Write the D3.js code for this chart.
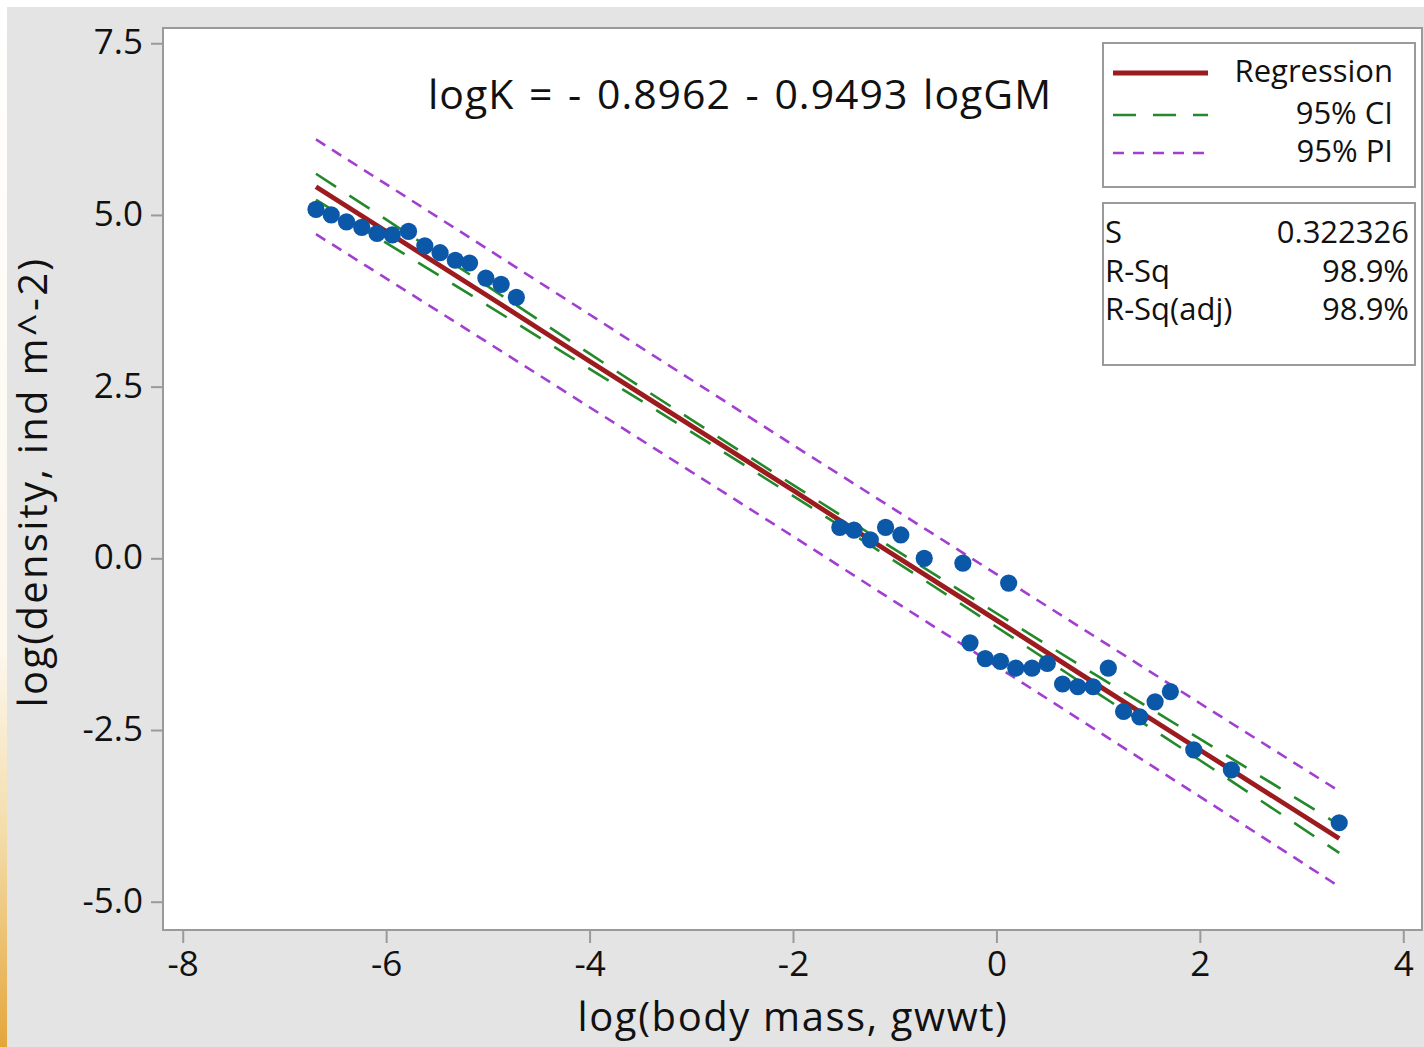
<!DOCTYPE html>
<html>
<head>
<meta charset="utf-8">
<script src="https://cdn.jsdelivr.net/npm/d3@7"></script>
<style>
  body { margin: 0; background: #fff; }
  svg { display: block; font-family: "Open Sans", "Noto Sans", sans-serif; }
</style>
</head>
<body>
<div id="chart"></div>
<script>
// observed points: log(body mass) and log(density)
var massX = [-6.69, -6.54, -6.39, -6.24, -6.09, -5.94, -5.78, -5.62, -5.47, -5.32, -5.18, -5.02, -4.87, -4.72,
  -1.54, -1.40, -1.24, -1.09, -0.94, -0.71, -0.33, 0.12, -0.26, -0.11, 0.04, 0.19, 0.35, 0.50,
  0.65, 0.80, 0.95, 1.10, 1.25, 1.41, 1.56, 1.71, 1.94, 2.31, 3.37];
var densityY = [5.08, 5.00, 4.90, 4.82, 4.73, 4.71, 4.76, 4.55, 4.45, 4.34, 4.30, 4.08, 3.99, 3.80,
  0.45, 0.41, 0.27, 0.45, 0.34, 0.00, -0.07, -0.36, -1.23, -1.46, -1.50, -1.60, -1.60, -1.53,
  -1.83, -1.87, -1.87, -1.60, -2.23, -2.31, -2.09, -1.94, -2.79, -3.08, -3.85];

// fitted line and bands
var fitX = [-6.69, -5, -4, -3, -2, -1, 0, 1, 2, 3.37];
var regY = [5.41, 3.82, 2.87, 1.93, 0.99, 0.04, -0.90, -1.85, -2.79, -4.08];
var ciUpper = [5.60, 3.96, 2.98, 2.02, 1.07, 0.13, -0.80, -1.72, -2.63, -3.88];
var ciLower = [5.22, 3.68, 2.76, 1.84, 0.91, -0.04, -1.00, -1.97, -2.94, -4.29];
var piUpper = [6.10, 4.50, 3.55, 2.60, 1.65, 0.71, -0.23, -1.17, -2.11, -3.39];
var piLower = [4.72, 3.14, 2.20, 1.26, 0.32, -0.63, -1.57, -2.52, -3.47, -4.78];

var xTicks = [-8, -6, -4, -2, 0, 2, 4];
var yTicks = [-5.0, -2.5, 0.0, 2.5, 5.0, 7.5];
var legendLabels = ["Regression", "95% CI", "95% PI"];
var statNames = ["S", "R-Sq", "R-Sq(adj)"];
var statValues = ["0.322326", "98.9%", "98.9%"];
var equation = "logK = - 0.8962 - 0.9493 logGM";

var svgWidth = 1424;
var svgHeight = 1047;
var plot = { left: 163, top: 28, right: 1422, bottom: 930 };

var svg = d3.select("#chart")
  .append("svg")
  .attr("width", svgWidth)
  .attr("height", svgHeight);

// background with the little orange strip on the left
var grad = svg.append("defs").append("linearGradient")
  .attr("id", "strip").attr("x1", 0).attr("y1", 0).attr("x2", 0).attr("y2", 1);
grad.append("stop").attr("offset", "0%").attr("stop-color", "#ffffff");
grad.append("stop").attr("offset", "62%").attr("stop-color", "#fdf8ee");
grad.append("stop").attr("offset", "80%").attr("stop-color", "#f3dca8");
grad.append("stop").attr("offset", "100%").attr("stop-color", "#e4a63a");

svg.append("rect").attr("width", svgWidth).attr("height", svgHeight).attr("fill", "#ffffff");
svg.append("rect").attr("x", 7).attr("y", 7).attr("width", svgWidth - 7).attr("height", svgHeight - 7)
  .attr("fill", "#e4e4e4");
svg.append("rect").attr("x", 0).attr("y", 0).attr("width", 7).attr("height", svgHeight)
  .attr("fill", "url(#strip)");

svg.append("rect")
  .attr("x", plot.left).attr("y", plot.top)
  .attr("width", plot.right - plot.left).attr("height", plot.bottom - plot.top)
  .attr("fill", "#ffffff");

// scales
var x = d3.scaleLinear().domain([-8.194, 4.184]).range([plot.left, plot.right]);
var y = d3.scaleLinear().domain([-5.412, 7.722]).range([plot.bottom, plot.top]);

// minitab uses a plain hyphen for negatives
var hyphen = function(fmt) {
  return function(d) { return fmt(d).replace("\u2212", "-"); };
};

// axes
var bottomAxis = d3.axisBottom(x).tickValues(xTicks).tickSize(13).tickPadding(6)
  .tickFormat(hyphen(d3.format("d")));
var leftAxis = d3.axisLeft(y).tickValues(yTicks).tickSize(12).tickPadding(8)
  .tickFormat(hyphen(d3.format(".1f")));

var gx = svg.append("g").attr("transform", `translate(0, ${plot.bottom})`).call(bottomAxis);
var gy = svg.append("g").attr("transform", `translate(${plot.left}, 0)`).call(leftAxis);

[gx, gy].forEach(function(g) {
  g.select(".domain").remove();
  g.selectAll(".tick line").attr("stroke", "#9a9a9a").attr("stroke-width", 2);
  g.selectAll(".tick text")
    .attr("fill", "#111")
    .style("font-family", "'Open Sans', sans-serif")
    .style("font-size", "35px");
});
gy.selectAll(".tick text").attr("dy", "0.3em");
gx.selectAll(".tick text").attr("dy", "0.76em");

// lines
var line = d3.line()
  .x(function(d) { return x(d[0]); })
  .y(function(d) { return y(d[1]); })
  .curve(d3.curveMonotoneX);

function pairs(ys) {
  return fitX.map(function(v, i) { return [v, ys[i]]; });
}

var chartGroup = svg.append("g");

[piUpper, piLower].forEach(function(s) {
  chartGroup.append("path")
    .datum(pairs(s))
    .attr("d", line)
    .attr("fill", "none")
    .attr("stroke", "#a23fd0")
    .attr("stroke-width", 2.6)
    .attr("stroke-dasharray", "11,8");
});

[ciUpper, ciLower].forEach(function(s) {
  chartGroup.append("path")
    .datum(pairs(s))
    .attr("d", line)
    .attr("fill", "none")
    .attr("stroke", "#23892b")
    .attr("stroke-width", 2.6)
    .attr("stroke-dasharray", "24,16");
});

chartGroup.append("path")
  .datum(pairs(regY))
  .attr("d", line)
  .attr("fill", "none")
  .attr("stroke", "#9c1b1f")
  .attr("stroke-width", 4.8);

// points
chartGroup.selectAll("circle")
  .data(massX)
  .enter()
  .append("circle")
  .attr("cx", function(d) { return x(d); })
  .attr("cy", function(d, i) { return y(densityY[i]); })
  .attr("r", 8.6)
  .attr("fill", "#0b57a8");

// frame on top
svg.append("rect")
  .attr("x", plot.left).attr("y", plot.top)
  .attr("width", plot.right - plot.left).attr("height", plot.bottom - plot.top)
  .attr("fill", "none")
  .attr("stroke", "#9a9a9a")
  .attr("stroke-width", 2);

// equation
svg.append("text")
  .attr("x", 740).attr("y", 109)
  .attr("text-anchor", "middle")
  .style("font-size", "41px")
  .style("letter-spacing", "1px")
  .style("word-spacing", "3px")
  .attr("fill", "#111")
  .text(equation);

// legend box
var legend = svg.append("g");
legend.append("rect")
  .attr("x", 1103).attr("y", 43).attr("width", 312).attr("height", 144)
  .attr("fill", "#fff").attr("stroke", "#9a9a9a").attr("stroke-width", 2);

var legendStyles = [
  { color: "#9c1b1f", width: 4.8, dash: null },
  { color: "#23892b", width: 2.6, dash: "23,17" },
  { color: "#a23fd0", width: 2.6, dash: "11,9" }
];
var legendRows = [73, 115, 153];

legendLabels.forEach(function(lab, i) {
  legend.append("line")
    .attr("x1", 1113).attr("x2", 1208)
    .attr("y1", legendRows[i]).attr("y2", legendRows[i])
    .attr("stroke", legendStyles[i].color)
    .attr("stroke-width", legendStyles[i].width)
    .attr("stroke-dasharray", legendStyles[i].dash);
  legend.append("text")
    .attr("x", 1393).attr("y", legendRows[i] + 9)
    .attr("text-anchor", "end")
    .style("font-size", "31px")
    .attr("fill", "#111")
    .text(lab);
});

// stats box
var stats = svg.append("g");
stats.append("rect")
  .attr("x", 1103).attr("y", 203).attr("width", 312).attr("height", 162)
  .attr("fill", "#fff").attr("stroke", "#9a9a9a").attr("stroke-width", 2);

var statRows = [243, 282, 320];
statNames.forEach(function(name, i) {
  stats.append("text")
    .attr("x", 1105).attr("y", statRows[i])
    .style("font-size", "31px")
    .attr("fill", "#111")
    .text(name);
  stats.append("text")
    .attr("x", 1409).attr("y", statRows[i])
    .attr("text-anchor", "end")
    .style("font-size", "31px")
    .attr("fill", "#111")
    .text(statValues[i]);
});

// axis titles
svg.append("text")
  .attr("x", 793).attr("y", 1031)
  .attr("text-anchor", "middle")
  .style("font-size", "40px")
  .style("letter-spacing", "1.6px")
  .attr("fill", "#111")
  .text("log(body mass, gwwt)");

svg.append("text")
  .attr("transform", "translate(47, 482) rotate(-90)")
  .attr("text-anchor", "middle")
  .style("font-size", "40px")
  .style("letter-spacing", "2.3px")
  .attr("fill", "#111")
  .text("log(density, ind m^-2)");
</script>
</body>
</html>
